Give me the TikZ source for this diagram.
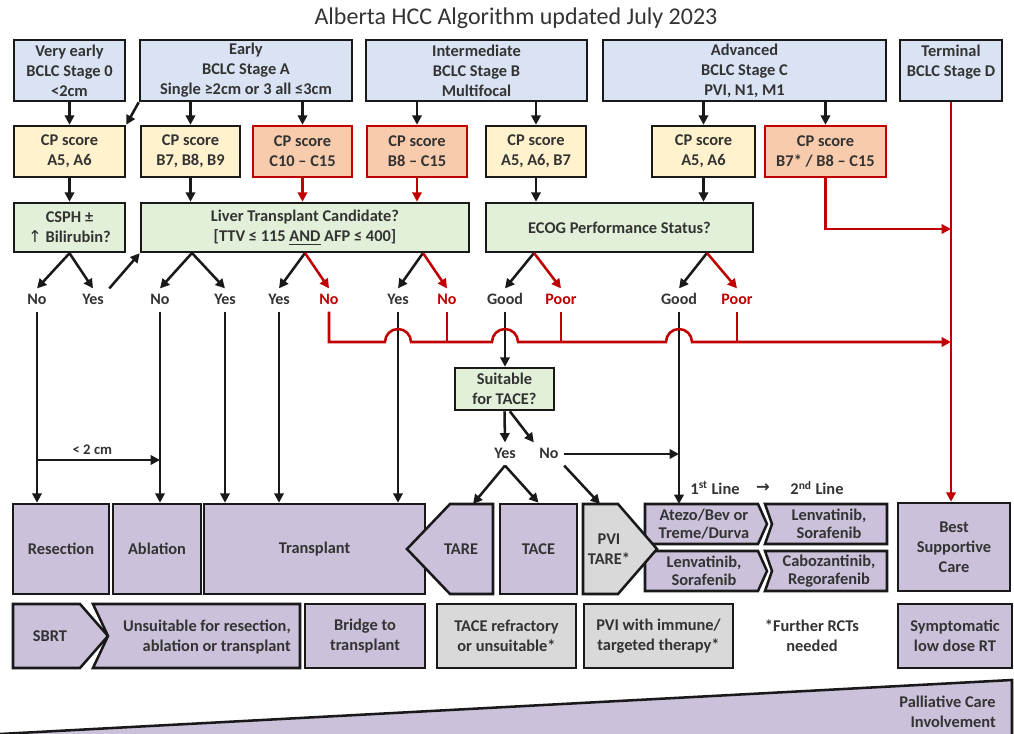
\documentclass[tikz,border=0pt]{standalone}
\usepackage{fontspec}
\setmainfont{Carlito}
\newfontfamily\dejavu{DejaVu Sans}
\usetikzlibrary{arrows.meta}

\definecolor{stageblue}{HTML}{DAE3F3}
\definecolor{cpyellow}{HTML}{FFF2CC}
\definecolor{cpred}{HTML}{F8CBAD}
\definecolor{redline}{HTML}{C00000}
\definecolor{askgreen}{HTML}{E2F0D9}
\definecolor{txpurple}{HTML}{CCC1DA}
\definecolor{txgray}{HTML}{D9D9D9}
\definecolor{ink}{HTML}{333333}

\tikzset{
  % corners of a box, given in pixels of the picture
  spot/.style args={#1/#2/#3/#4}{at={({(#1+#3)/2},{(#2+#4)/2})},
    minimum width={(#3-#1)*0.75pt}, minimum height={(#4-#2)*0.75pt}},
  box/.style={draw=black!90, line width=1.9pt, inner sep=0pt, align=center,
    text=ink, font=\bfseries\fontsize{12.3}{15}\selectfont},
  stagebox/.style={box, fill=stageblue},
  cpbox/.style={box, fill=cpyellow},
  cpredbox/.style={box, fill=cpred, draw=redline},
  askbox/.style={box, fill=askgreen},
  txbox/.style={box, fill=txpurple},
  graybox/.style={box, fill=txgray},
  outline/.style={draw=black!90, line width=1.9pt},
  txt/.style={align=center, text=ink, inner sep=0pt, font=\bfseries\fontsize{12.3}{15}\selectfont},
  tighttxt/.style={txt, font=\bfseries\fontsize{12.3}{13.5}\selectfont},
  ans/.style={text=ink, font=\bfseries\fontsize{12}{14}\selectfont, text height=8pt, text depth=1pt, inner sep=4pt},
  redans/.style={ans, text=redline},
  conn/.style={line width=1.9pt, draw=black!90},
  arr/.style={conn, -{Triangle[length=7pt,width=7pt]}},
  redconn/.style={conn, draw=redline},
  redarr/.style={arr, draw=redline},
}

\begin{document}
\begin{tikzpicture}[x=0.75pt, y=-0.75pt]
  \useasboundingbox (0,0) rectangle (1014,734);
  \node[text=ink, font=\fontsize{18}{20}\selectfont] (title) at (516,18) {Alberta HCC Algorithm updated July 2023};

  % BCLC stages
  \node[stagebox, spot=14/40/125/101] (s0) {Very early\\BCLC Stage 0\\<2cm};
  \node[stagebox, spot=140/40/352/101] (sA) {Early\\BCLC Stage A\\Single ≥2cm or 3 all ≤3cm};
  \node[stagebox, spot=366/40/587/101] (sB) {Intermediate\\BCLC Stage B\\Multifocal};
  \node[stagebox, spot=603/40/886/101] (sC) {Advanced\\BCLC Stage C\\PVI, N1, M1};
  \node[stagebox, spot=900/40/1002/101] (sD) {Terminal\\BCLC Stage D\\\phantom{C}};

  % Child-Pugh scores
  \node[cpbox, spot=14/126/125/177] (cp1) {CP score\\A5, A6};
  \node[cpbox, spot=141/126/240/177] (cp2) {CP score\\B7, B8, B9};
  \node[cpredbox, spot=253/126/352/177] (cp3) {CP score\\C10 -- C15};
  \node[cpredbox, spot=367/126/467/177] (cp4) {CP score\\B8 -- C15};
  \node[cpbox, spot=486/126/586/177] (cp5) {CP score\\A5, A6, B7};
  \node[cpbox, spot=652/126/755/177] (cp6) {CP score\\A5, A6};
  \node[cpredbox, spot=765/126/886/177] (cp7) {CP score\\B7* / B8 -- C15};

  \draw[arr] (s0) -- (cp1);
  \draw[arr] (sA.south west) -- (cp1.north east);
  \draw[arr] (sA.south -| cp2) -- (cp2);
  \draw[arr] (sA.south -| cp3) -- (cp3);
  \draw[arr] (sB.south -| cp4) -- (cp4);
  \draw[arr] (sB.south -| cp5) -- (cp5);
  \draw[arr] (sC.south -| cp6) -- (cp6);
  \draw[arr] (sC.south -| cp7) -- (cp7);

  % questions
  \node[askbox, spot=14/203/125/252] (csph) {CSPH ±\\{\dejavu\mdseries ↑} Bilirubin?};
  \node[askbox, spot=141/203/469/252] (ltc) {Liver Transplant Candidate?\\{[}TTV ≤ 115 \underline{AND} AFP ≤ 400]};
  \node[askbox, spot=486/203/753/252] (ecog) {ECOG Performance Status?};

  \draw[arr] (cp1) -- (csph);
  \draw[arr] (cp2) -- (cp2 |- ltc.north);
  \draw[redarr] (cp3) -- (cp3 |- ltc.north);
  \draw[redarr] (cp4) -- (cp4 |- ltc.north);
  \draw[arr] (cp5) -- (cp5 |- ecog.north);
  \draw[arr] (cp6) -- (cp6 |- ecog.north);
  \draw[redarr] (cp7.south) |- (sD.south |- 0,229);

  % answers
  \node[ans] (a1) at (37,300) {No};
  \node[ans] (a2) at (93,300) {Yes};
  \node[ans] (a3) at (160,300) {No};
  \node[ans] (a4) at (225,300) {Yes};
  \node[ans] (a5) at (279,300) {Yes};
  \node[redans] (a6) at (329,300) {No};
  \node[ans] (a7) at (398,300) {Yes};
  \node[redans] (a8) at (447,300) {No};
  \node[ans] (a9) at (505,300) {Good};
  \node[redans] (a10) at (561,300) {Poor};
  \node[ans] (a11) at (679,300) {Good};
  \node[redans] (a12) at (737,300) {Poor};

  \coordinate (ltcs1) at (192,253);
  \coordinate (ltcs2) at (305,253);
  \coordinate (ltcs3) at (423,253);
  \coordinate (ecogs1) at (534,253);
  \coordinate (ecogs2) at (707,253);

  \draw[arr] (csph.south) -- (a1.north);
  \draw[arr] (csph.south) -- (a2.north);
  \draw[arr] (a2.north east) -- (ltc.south west);
  \draw[arr] (ltcs1) -- (a3.north);
  \draw[arr] (ltcs1) -- (a4.north);
  \draw[arr] (ltcs2) -- (a5.north);
  \draw[redarr] (ltcs2) -- (a6.north);
  \draw[arr] (ltcs3) -- (a7.north);
  \draw[redarr] (ltcs3) -- (a8.north);
  \draw[arr] (ecogs1) -- (a9.north);
  \draw[redarr] (ecogs1) -- (a10.north);
  \draw[arr] (ecogs2) -- (a11.north);
  \draw[redarr] (ecogs2) -- (a12.north);

  % treatments
  \node[txbox, spot=13/504/109/594] (res) {Resection};
  \node[txbox, spot=113/504/201/594] (abl) {Ablation};
  \node[txbox, spot=204/504/425/594] (tx) {Transplant};
  \filldraw[outline, fill=txpurple] (450,504) -- (493,504) -- (493,594) -- (450,594) -- (407,549) -- cycle;
  \node[txt] (tare) at (461,549) {TARE};
  \coordinate (taretop) at (473,504);
  \node[txbox, spot=500/504/577/594] (tace) {TACE};

  \filldraw[outline, fill=txpurple] (645,504) -- (758,504) -- (767,524) -- (758,544) -- (645,544) -- cycle;
  \node[tighttxt] (atezo) at (704,524) {Atezo/Bev or\\Treme/Durva};
  \coordinate (atezotop) at (679,504);
  \filldraw[outline, fill=txpurple] (765,504) -- (887,504) -- (887,544) -- (765,544) -- (772,524) -- cycle;
  \node[tighttxt] (lenv1) at (829,524) {Lenvatinib,\\Sorafenib};
  \filldraw[outline, fill=txpurple] (645,551) -- (758,551) -- (767,571) -- (758,591) -- (645,591) -- cycle;
  \node[tighttxt] (lenv2) at (704,571) {Lenvatinib,\\Sorafenib};
  \filldraw[outline, fill=txpurple] (765,551) -- (887,551) -- (887,591) -- (765,591) -- (772,571) -- cycle;
  \node[tighttxt] (cabo) at (829,571) {Cabozantinib,\\Regorafenib};

  \filldraw[outline, fill=txgray] (583,504) -- (618,504) -- (657,549) -- (618,594) -- (583,594) -- cycle;
  \node[txt] (pvi) at (609,549) {PVI\\TARE*};
  \coordinate (pvitop) at (600,504);

  \node[txbox, spot=898/503/1010/591] (bsc) {Best\\Supportive\\Care};

  \node[txt] (first) at (715,488) {1\textsuperscript{st} Line};
  \node[txt] (then) at (763,488) {\dejavu →};
  \node[txt] (second) at (817,488) {2\textsuperscript{nd} Line};

  % TACE question
  \node[askbox, spot=455/368/554/410] (suit) {Suitable\\for TACE?};
  \node[ans] (a13) at (505,454) {Yes};
  \node[ans] (a14) at (549,454) {No};
  \draw[arr] (suit.south) -- (a13.north);
  \draw[arr] ([xshift=4pt]suit.south) -- (a14.north west);
  \draw[arr] (a13.south) -- (taretop);
  \draw[arr] (a13.south) -- (tace.north);
  \draw[arr] (a14.south east) -- (pvitop);
  \draw[arr] (a14.east) -- (a14.east -| a11.south);

  % lines down to treatments
  \draw[arr] (a1.south) -- (a1.south |- res.north);
  \draw[arr] (a1.south |- 0,460) -- node[pos=0.45, above, inner sep=3pt, font=\bfseries\fontsize{11}{12}\selectfont, text=ink] (lt2) {< 2 cm} (a3.south |- 0,460);
  \draw[arr] (a3.south) -- (a3.south |- abl.north);
  \draw[arr] (a4.south) -- (a4.south |- tx.north);
  \draw[arr] (a5.south) -- (a5.south |- tx.north);
  \draw[arr] (a7.south) -- (a7.south |- tx.north);
  \draw[arr] (a9.south) -- (a9.south |- suit.north);
  \draw[arr] (a11.south) -- (atezotop);

  % not suitable: to best supportive care
  \draw[redarr] (a6.south) |- (385,342) arc (180:360:13) -- (492,342) arc (180:360:13)
    -- (666,342) arc (180:360:13) -- (sD.south |- 0,342);
  \draw[redconn] (a8.south) -- (a8.south |- 0,342);
  \draw[redconn] (a10.south) -- (a10.south |- 0,342);
  \draw[redconn] (a12.south) -- (a12.south |- 0,342);
  \draw[redarr] (sD) -- (sD |- bsc.north);

  % second line of options
  \filldraw[outline, fill=txpurple] (13,604) -- (80,604) -- (108,636) -- (80,668) -- (13,668) -- cycle;
  \node[txt] (sbrt) at (50,636) {SBRT};
  \filldraw[outline, fill=txpurple] (93,604) -- (300,604) -- (300,668) -- (93,668) -- (108,636) -- cycle;
  \node[txt, align=right, anchor=east] (unsuit) at (291,637) {Unsuitable for resection,\\ablation or transplant};
  \node[txbox, spot=305/604/425/668] (bridge) {Bridge to\\transplant};
  \node[graybox, spot=437/604/576/668] (tacer) {TACE refractory\\or unsuitable*};
  \node[graybox, spot=584/604/733/668] (pvit) {PVI with immune/\\targeted therapy*};
  \node[txt] (rct) at (812,636) {*Further RCTs\\needed};
  \node[txbox, spot=898/604/1012/668] (sympt) {Symptomatic\\low dose RT};

  % palliative care wedge
  \fill[txpurple] (0,734) -- (1012,680) -- (1012,734) -- cycle;
  \draw[conn] (0,734) -- (1012,680) -- (1012,734);
  \node[txt, align=right, anchor=east] (pall) at (996,712) {Palliative Care\\Involvement};
\end{tikzpicture}
\end{document}
